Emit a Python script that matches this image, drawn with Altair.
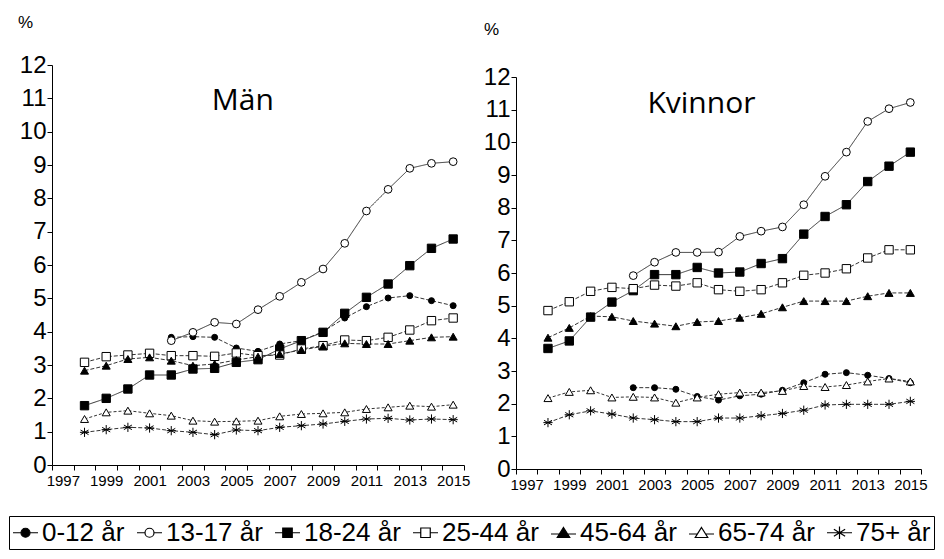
import altair as alt
import pandas as pd

years = list(range(1998, 2016))
groups = ["0-12 år", "13-17 år", "18-24 år", "25-44 år", "45-64 år", "65-74 år", "75+ år"]
N = None

man = {
    "0-12 år": [N, N, N, N, 3.83, 3.85, 3.83, 3.51, 3.41, 3.63, 3.73, 4.0, 4.41, 4.75, 5.01, 5.08, 4.93, 4.78],
    "13-17 år": [N, N, N, N, 3.73, 3.98, 4.28, 4.23, 4.66, 5.06, 5.48, 5.88, 6.65, 7.62, 8.27, 8.9, 9.05, 9.1],
    "18-24 år": [1.78, 2.0, 2.28, 2.7, 2.7, 2.88, 2.9, 3.08, 3.16, 3.48, 3.73, 3.98, 4.55, 5.03, 5.43, 5.98, 6.5, 6.78],
    "25-44 år": [3.08, 3.25, 3.3, 3.35, 3.28, 3.28, 3.26, 3.36, 3.28, 3.3, 3.48, 3.58, 3.75, 3.73, 3.83, 4.05, 4.33, 4.41],
    "45-64 år": [2.83, 2.98, 3.18, 3.23, 3.13, 2.98, 3.03, 3.15, 3.25, 3.33, 3.45, 3.56, 3.65, 3.63, 3.63, 3.73, 3.83, 3.85],
    "65-74 år": [1.38, 1.58, 1.63, 1.55, 1.48, 1.33, 1.3, 1.31, 1.33, 1.46, 1.53, 1.55, 1.58, 1.68, 1.73, 1.78, 1.75, 1.81],
    "75+ år": [0.98, 1.06, 1.13, 1.11, 1.03, 0.98, 0.91, 1.05, 1.03, 1.13, 1.18, 1.23, 1.31, 1.38, 1.4, 1.35, 1.38, 1.36],
}
kvinnor = {
    "0-12 år": [N, N, N, N, 2.49, 2.49, 2.44, 2.22, 2.11, 2.24, 2.29, 2.41, 2.64, 2.9, 2.95, 2.87, 2.77, 2.64],
    "13-17 år": [N, N, N, N, 5.92, 6.33, 6.63, 6.63, 6.64, 7.12, 7.28, 7.41, 8.09, 8.96, 9.7, 10.64, 11.03, 11.22],
    "18-24 år": [3.69, 3.92, 4.65, 5.11, 5.46, 5.95, 5.95, 6.17, 6.0, 6.03, 6.29, 6.44, 7.19, 7.73, 8.09, 8.8, 9.27, 9.7],
    "25-44 år": [4.85, 5.12, 5.44, 5.56, 5.52, 5.63, 5.6, 5.7, 5.49, 5.44, 5.49, 5.7, 5.93, 6.0, 6.13, 6.46, 6.71, 6.71],
    "45-64 år": [4.02, 4.32, 4.68, 4.66, 4.53, 4.45, 4.37, 4.5, 4.53, 4.63, 4.75, 4.95, 5.14, 5.14, 5.14, 5.29, 5.39, 5.39],
    "65-74 år": [2.17, 2.36, 2.41, 2.19, 2.21, 2.19, 2.03, 2.19, 2.29, 2.34, 2.34, 2.39, 2.54, 2.51, 2.57, 2.68, 2.77, 2.68],
    "75+ år": [1.42, 1.66, 1.78, 1.68, 1.56, 1.51, 1.45, 1.45, 1.56, 1.56, 1.63, 1.7, 1.8, 1.96, 1.98, 1.98, 1.98, 2.07],
}

# marker / line styles
shapes = ["circle", "circle", "square", "square", "triangle-up", "triangle-up",
          "M0,-1V1M-0.87,-0.5L0.87,0.5M-0.87,0.5L0.87,-0.5M-1,0H1"]
fills = ["black", "white", "black", "white", "black", "white", "black"]
sizes = [36, 60, 70, 70, 64, 64, 85]
dashes = [[4, 2], [1, 0], [1, 0], [4, 2], [4, 2], [3, 2], [4, 2]]
legend_paths = [
    "M-1,0H-0.36M0.36,0H1M-0.36,0A0.36,0.36 0 1,0 0.36,0A0.36,0.36 0 1,0 -0.36,0Z",
    "M-1,0H-0.36M0.36,0H1M-0.36,0A0.36,0.36 0 1,0 0.36,0A0.36,0.36 0 1,0 -0.36,0Z",
    "M-1,0H-0.38M0.38,0H1M-0.38,-0.38H0.38V0.38H-0.38Z",
    "M-1,0H-0.38M0.38,0H1M-0.38,-0.38H0.38V0.38H-0.38Z",
    "M-1,0.1H-0.3M0.3,0.1H1M0,-0.42L0.5,0.38H-0.5Z",
    "M-1,0.1H-0.3M0.3,0.1H1M0,-0.42L0.5,0.38H-0.5Z",
    "M-1,0H1M0,-0.5V0.5M-0.45,-0.28L0.45,0.28M-0.45,0.28L0.45,-0.28",
]

boundaries = [y - 0.5 for y in range(1997, 2017)]


def long_df(d):
    rows = []
    for g in groups:
        for yr, v in zip(years, d[g]):
            if v is not None:
                rows.append({"year": yr, "value": v, "group": g})
    return pd.DataFrame(rows)


def panel(d, title, width, height, top_gap, pct_x, pct_y, title_x, title_y):
    df = long_df(d)
    xscale = alt.Scale(domain=[1996.5, 2015.5], nice=False, zero=False)
    xaxis = alt.Axis(values=boundaries, title=None, grid=False, tickSize=5,
                     labelExpr="(datum.value + 0.5) % 2 == 1 ? format(datum.value + 0.5, 'd') : ''",
                     labelOffset=width / 19 / 2, labelFlush=False, labelOverlap=False,
                     labelBound=False, labelFontSize=15, labelPadding=3)
    yscale = alt.Scale(domain=[0, 12], nice=False, range=[height, top_gap])
    yaxis = alt.Axis(values=list(range(13)), grid=False, tickSize=5, labelPadding=1,
                     labelFontSize=24, labelOverlap=False, title="%", titleAngle=0,
                     titleX=pct_x, titleY=pct_y, titleFontSize=17, titleFontWeight="normal",
                     titleAlign="center", titleBaseline="middle")
    x = alt.X("year:Q", scale=xscale, axis=xaxis)
    y = alt.Y("value:Q", scale=yscale, axis=yaxis)
    layers = []
    for g, dash in zip(groups, dashes):
        layers.append(
            alt.Chart().mark_line(color="#333333", strokeWidth=1, strokeDash=dash)
            .encode(x=x, y=y).transform_filter(alt.datum.group == g)
        )
    for g, sh, fl, sz in zip(groups, shapes, fills, sizes):
        layers.append(
            alt.Chart().mark_point(shape=sh, filled=True, fill=fl, stroke="black", strokeWidth=1,
                                   size=sz, opacity=1)
            .encode(x=x, y=y).transform_filter(alt.datum.group == g)
        )
    leg = alt.Legend(orient="none", legendX=-43, legendY=451, direction="horizontal", columns=7,
                     title=None, labelFont="Liberation Sans", labelFontSize=26, labelColor="black",
                     symbolSize=625, symbolStrokeWidth=1.2, symbolOpacity=1,
                     columnPadding=9, labelOffset=3, padding=3, strokeColor="black",
                     fillColor="white", labelLimit=300)
    legend_layer = alt.Chart().mark_point(filled=True, opacity=0).encode(
        x=x, y=y,
        shape=alt.Shape("group:N", scale=alt.Scale(domain=groups, range=legend_paths), legend=leg),
        fill=alt.Fill("group:N", scale=alt.Scale(domain=groups, range=fills), legend=leg),
        stroke=alt.Stroke("group:N", scale=alt.Scale(domain=groups, range=["black"] * 7), legend=leg),
    )
    layers.append(legend_layer)
    title_layer = alt.Chart(pd.DataFrame({"t": [title]})).mark_text(
        font="Open Sans", fontSize=30, color="black", align="center", baseline="middle"
    ).encode(
        x=alt.XDatum(title_x, scale=xscale, axis=xaxis),
        y=alt.YDatum(title_y, scale=yscale, axis=yaxis),
        text="t:N",
    )
    base = alt.layer(*layers, data=df)
    return alt.layer(base, title_layer).properties(width=width, height=height)


left = panel(man, "Män", 412, 400, 0, -27, -42.5, 2005.3, 10.92)
right = panel(kvinnor, "Kvinnor", 405, 404, 12, -25, -36, 2005.2, 11.17)

chart = alt.hconcat(left, right, spacing=8).properties(
    padding={"left": 0, "top": 5, "right": 0, "bottom": 0},
    background="white",
).configure_view(stroke=None).configure_axis(
    labelFont="Liberation Sans", titleFont="Liberation Sans", labelColor="black",
    titleColor="black", domainColor="black", tickColor="black",
)

chart.save("out.html", embed_options={"renderer": "svg", "actions": False})
